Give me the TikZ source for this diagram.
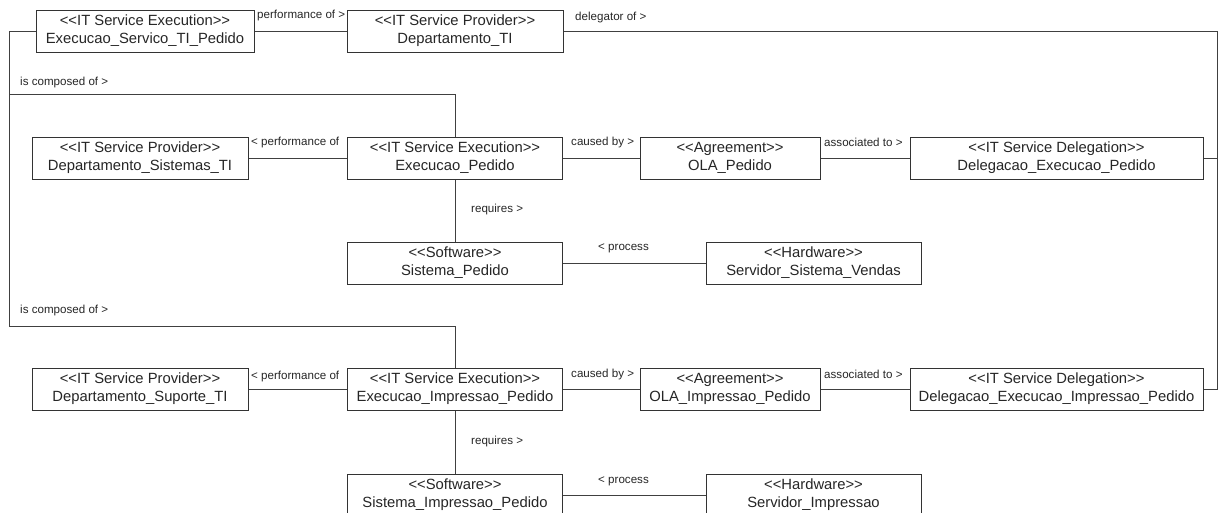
\documentclass[tikz,border=0pt]{standalone}
\usepackage{fontspec}
\newfontfamily\umlfont{Liberation Sans}
\newcommand{\stereo}[1]{\char"3C\kern0pt\char"3C #1\char"3E\kern0pt\char"3E}
\begin{document}
\begin{tikzpicture}[x=1pt,y=-1pt,
  box/.style={draw=black!80, line width=1pt, fill=white, inner sep=0pt, align=center,
    minimum height=42pt, text=black!85, font=\umlfont\fontsize{14.8}{18}\selectfont},
  lbl/.style={anchor=west, inner sep=0pt, text=black!85, font=\umlfont\fontsize{11.6}{13}\selectfont},
  conn/.style={draw=black!75, line width=1pt}]
\useasboundingbox (0,0) rectangle (1218,512);

% row 1
\node[box, minimum width=218pt] (e0) at (145,31) {\stereo{IT Service Execution}\\Execucao\_Servico\_TI\_Pedido};
\node[box, minimum width=216pt] (p0) at (455,31) {\stereo{IT Service Provider}\\Departamento\_TI};
% row 2
\node[box, minimum width=216pt] (p1) at (140,158) {\stereo{IT Service Provider}\\Departamento\_Sistemas\_TI};
\node[box, minimum width=215pt] (e1) at (455,158) {\stereo{IT Service Execution}\\Execucao\_Pedido};
\node[box, minimum width=180pt] (a1) at (730,158) {\stereo{Agreement}\\OLA\_Pedido};
\node[box, minimum width=293pt] (d1) at (1056.5,158) {\stereo{IT Service Delegation}\\Delegacao\_Execucao\_Pedido};
% row 3
\node[box, minimum width=215pt] (s1) at (455,263) {\stereo{Software}\\Sistema\_Pedido};
\node[box, minimum width=215pt] (h1) at (813.5,263) {\stereo{Hardware}\\Servidor\_Sistema\_Vendas};
% row 4
\node[box, minimum width=216pt] (p2) at (140,389) {\stereo{IT Service Provider}\\Departamento\_Suporte\_TI};
\node[box, minimum width=215pt] (e2) at (455,389) {\stereo{IT Service Execution}\\Execucao\_Impressao\_Pedido};
\node[box, minimum width=180pt] (a2) at (730,389) {\stereo{Agreement}\\OLA\_Impressao\_Pedido};
\node[box, minimum width=293pt] (d2) at (1056.5,389) {\stereo{IT Service Delegation}\\Delegacao\_Execucao\_Impressao\_Pedido};
% row 5
\node[box, minimum width=215pt] (s2) at (455,495) {\stereo{Software}\\Sistema\_Impressao\_Pedido};
\node[box, minimum width=215pt] (h2) at (813.5,495) {\stereo{Hardware}\\Servidor\_Impressao};

% helper coordinates
\coordinate (lt) at (9,31);
\coordinate (lm) at (9,94);
\coordinate (lb) at (9,326);
\coordinate (rt) at (1217,31);

% connectors
\begin{scope}[on background layer/.style={}]
\draw[conn] (e0.east) -- (p0.west);
\draw[conn] (p0.east) -- (rt) |- (d2.east);
\draw[conn] (d1.east) -- (d1.east -| rt);
\draw[conn] (e0.west) -- (lt) -- (lb) -| (e2.north);
\draw[conn] (lm) -| (e1.north);
\draw[conn] (p1.east) -- (e1.west);
\draw[conn] (e1.east) -- (a1.west);
\draw[conn] (a1.east) -- (d1.west);
\draw[conn] (e1.south) -- (s1.north);
\draw[conn] (s1.east) -- (h1.west);
\draw[conn] (p2.east) -- (e2.west);
\draw[conn] (e2.east) -- (a2.west);
\draw[conn] (a2.east) -- (d2.west);
\draw[conn] (e2.south) -- (s2.north);
\draw[conn] (s2.east) -- (h2.west);
\end{scope}

% labels
\node[lbl] (l1) at (257,16) {performance of >};
\node[lbl] (l2) at (575,17) {delegator of >};
\node[lbl] (l3) at (20,82) {is composed of >};
\node[lbl] (l4) at (251,143) {< performance of};
\node[lbl] (l5) at (571,142) {caused by >};
\node[lbl] (l6) at (824,142) {associated to >};
\node[lbl] (l7) at (471,209) {requires >};
\node[lbl] (l8) at (598,248) {< process};
\node[lbl] (l9) at (20,310) {is composed of >};
\node[lbl] (l10) at (251,376) {< performance of};
\node[lbl] (l11) at (571,374) {caused by >};
\node[lbl] (l12) at (824,374) {associated to >};
\node[lbl] (l13) at (471,441) {requires >};
\node[lbl] (l14) at (598,481) {< process};
\end{tikzpicture}
\end{document}
